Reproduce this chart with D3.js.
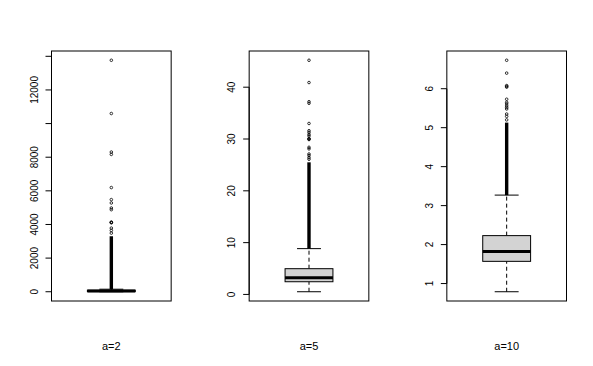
<!DOCTYPE html>
<html>
<head>
<meta charset="utf-8">
<script src="https://cdn.jsdelivr.net/npm/d3@7"></script>
<style>
  body { margin: 0; background: #fff; }
  text { font-family: "Liberation Sans", Arial, sans-serif; font-size: 10px; fill: #000; }
  .glab { font-size: 11px; }
</style>
</head>
<body>
<script>
// one box per group
let groups = ["a=2", "a=5", "a=10"];
let whiskLo = [0, 0.52, 0.79];
let q1 = [10, 2.45, 1.57];
let median = [40, 3.23, 1.82];
let q3 = [90, 4.97, 2.23];
let whiskHi = [150, 8.84, 3.27];
// outliers so dense they merge into a solid line: from whisker top up to this value
let denseTop = [3300, 25.5, 5.13];
let out2 = [3486, 3645, 3785, 4100, 4123, 4140, 4880, 4980, 5279, 5478, 6195, 8167, 8307, 10598, 13765];
let out5 = [26.1, 26.4, 26.8, 27.1, 28.1, 28.4, 29.9, 30.0, 30.1, 30.6, 30.9, 31.3, 31.6, 33.0, 36.9, 37.2, 40.9, 45.2];
let out10 = [5.2, 5.29, 5.35, 5.48, 5.52, 5.56, 5.61, 5.65, 5.73, 6.04, 6.06, 6.08, 6.40, 6.73];
let outliers = [out2, out5, out10];
let ticks2 = [0, 2000, 4000, 6000, 8000, 10000, 12000, 14000];
let tickLab2 = ["0", "2000", "4000", "6000", "8000", "", "12000", ""];
let ticks5 = [0, 10, 20, 30, 40];
let ticks10 = [1, 2, 3, 4, 5, 6];
let tickVals = [ticks2, ticks5, ticks10];
let tickLabs = [tickLab2, ticks5.map(String), ticks10.map(String)];

var W = 593, H = 366;
var colW = W / 3;
var margin = {top: 51, bottom: 65, left: 51.5, right: 26.5};
var plotW = colW - margin.left - margin.right;

var svg = d3.select('body').append('svg')
    .attr('width', W)
    .attr('height', H);

groups.forEach((g, i) => {
    let x0 = i * colW + margin.left;
    let lo = whiskLo[i], hi = d3.max(outliers[i]);
    let pad = (hi - lo) * 0.04;
    let y = d3.scaleLinear()
        .domain([lo - pad, hi + pad])
        .range([H - margin.bottom, margin.top]);
    let x = d3.scaleLinear().domain([0.5, 1.5]).range([x0, x0 + plotW]);
    let cx = x(1);
    let halfBox = x(1.2) - x(1);
    let halfCap = halfBox / 2;

    let p = svg.append('g').attr('class', 'panel');

    // lower whisker + upper whisker (dashed)
    p.append('line')
        .attr('x1', cx).attr('x2', cx)
        .attr('y1', y(lo)).attr('y2', y(q1[i]))
        .attr('stroke', '#000').attr('stroke-dasharray', '4,3');
    p.append('line')
        .attr('x1', cx).attr('x2', cx)
        .attr('y1', y(q3[i])).attr('y2', y(whiskHi[i]))
        .attr('stroke', '#000').attr('stroke-dasharray', '4,3');
    [lo, whiskHi[i]].forEach(v => {
        p.append('line')
            .attr('x1', cx - halfCap).attr('x2', cx + halfCap)
            .attr('y1', y(v)).attr('y2', y(v))
            .attr('stroke', '#000');
    });

    // dense run of outliers
    p.append('line')
        .attr('x1', cx).attr('x2', cx)
        .attr('y1', y(whiskHi[i])).attr('y2', y(denseTop[i]))
        .attr('stroke', '#000').attr('stroke-width', 3.4);

    p.selectAll('.out')
        .data(outliers[i])
        .enter().append('circle')
        .attr('class', 'out')
        .attr('cx', cx)
        .attr('cy', d => y(d))
        .attr('r', 1.3)
        .attr('fill', 'none')
        .attr('stroke', '#000')
        .attr('stroke-width', 0.8);

    // box
    p.append('rect')
        .attr('x', cx - halfBox)
        .attr('y', y(q3[i]))
        .attr('width', halfBox * 2)
        .attr('height', Math.max(y(q1[i]) - y(q3[i]), 0.5))
        .attr('fill', '#d3d3d3')
        .attr('stroke', '#000');
    p.append('line')
        .attr('x1', cx - halfBox).attr('x2', cx + halfBox)
        .attr('y1', y(median[i])).attr('y2', y(median[i]))
        .attr('stroke', '#000').attr('stroke-width', 3);

    // frame
    p.append('rect')
        .attr('x', x0).attr('y', margin.top)
        .attr('width', plotW).attr('height', H - margin.top - margin.bottom)
        .attr('fill', 'none').attr('stroke', '#000');

    // y axis, R style: rotated labels
    let tv = tickVals[i];
    p.append('line')
        .attr('x1', x0).attr('x2', x0)
        .attr('y1', y(tv[0])).attr('y2', y(tv[tv.length - 1]))
        .attr('stroke', '#000');
    tv.forEach((t, j) => {
        p.append('line')
            .attr('x1', x0 - 6).attr('x2', x0)
            .attr('y1', y(t)).attr('y2', y(t))
            .attr('stroke', '#000');
        if (tickLabs[i][j] !== "") {
            p.append('text')
                .attr('transform', 'translate(' + (x0 - 17.5) + ',' + y(t) + ') rotate(-90)')
                .attr('text-anchor', 'middle')
                .attr('dy', '0.35em')
                .text(tickLabs[i][j]);
        }
    });

    // group label under the panel
    p.append('text')
        .attr('class', 'glab')
        .attr('x', cx)
        .attr('y', 350)
        .attr('text-anchor', 'middle')
        .text(g);
});
</script>
</body>
</html>
